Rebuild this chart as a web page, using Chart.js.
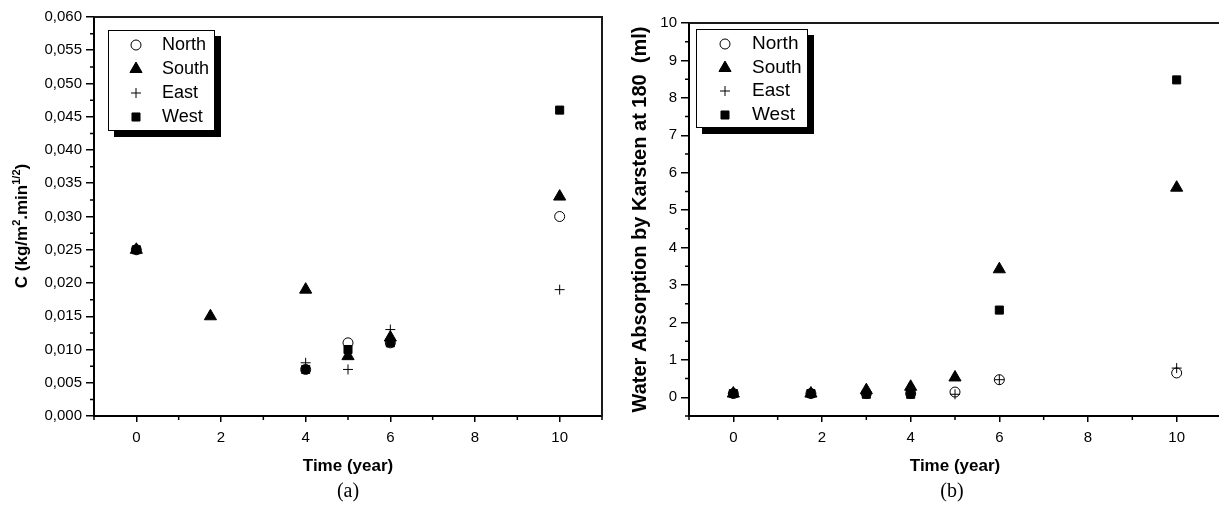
<!DOCTYPE html>
<html><head><meta charset="utf-8">
<script src="https://cdn.jsdelivr.net/npm/chart.js@4.4.1/dist/chart.umd.min.js"></script>
<style>
html,body{margin:0;padding:0;width:1219px;height:511px;overflow:hidden;background:#fff;font-family:"Liberation Sans",Arial,sans-serif;}
#wa{position:absolute;left:0;top:0;width:610px;height:511px;}
#wb{position:absolute;left:610px;top:0;width:620px;height:511px;}
.cap{position:absolute;font-family:"Liberation Serif","Times New Roman",serif;font-size:20px;color:#000;width:60px;text-align:center;line-height:24px;}
#ta{position:absolute;left:-78px;top:216px;width:200px;height:20px;line-height:20px;text-align:center;transform:rotate(-90deg);white-space:nowrap;font-weight:bold;font-size:17px;color:#000;}
#ta sup{font-size:11px;vertical-align:0;position:relative;top:-7px;}
</style></head>
<body>
<div id="wa"><canvas id="ca" width="610" height="511"></canvas></div>
<div id="wb"><canvas id="cb" width="620" height="511"></canvas></div>
<div id="ta">C (kg/m<sup>2</sup>.min<sup>1/2</sup>)</div>
<div class="cap" style="left:318px;top:478px;">(a)</div>
<div class="cap" style="left:922px;top:478px;">(b)</div>
<script>
const seriesNames = ['North', 'South', 'East', 'West'];

// ---- Chart (a): C (kg/m2.min^1/2) vs time ----
const aNorthX = [0, 4, 5, 6, 10];
const aNorthY = [0.025, 0.007, 0.011, 0.011, 0.030];
const aSouthX = [0, 1.75, 4, 5, 6, 10];
const aSouthY = [0.025, 0.015, 0.019, 0.009, 0.0118, 0.033];
const aEastX = [0, 4, 5, 6, 10];
const aEastY = [0.025, 0.008, 0.007, 0.013, 0.019];
const aWestX = [0, 4, 5, 6, 10];
const aWestY = [0.025, 0.007, 0.010, 0.011, 0.046];

// ---- Chart (b): Water absorption by Karsten vs time ----
const bNorthX = [0, 1.75, 3, 4, 5, 6, 10];
const bNorthY = [0.1, 0.1, 0.1, 0.1, 0.14, 0.47, 0.65];
const bSouthX = [0, 1.75, 3, 4, 5, 6, 10];
const bSouthY = [0.1, 0.1, 0.19, 0.28, 0.53, 3.42, 5.6];
const bEastX = [0, 1.75, 3, 4, 5, 6, 10];
const bEastY = [0.1, 0.1, 0.1, 0.1, 0.08, 0.47, 0.78];
const bWestX = [0, 1.75, 3, 4, 6, 10];
const bWestY = [0.1, 0.1, 0.08, 0.08, 2.33, 8.48];

// ---- ticks ----
const xMajorTicks = [0, 2, 4, 6, 8, 10];
const xMinorTicks = [-1, 1, 3, 5, 7, 9, 11];
const aYMajorTicks = [0, 0.005, 0.010, 0.015, 0.020, 0.025, 0.030, 0.035, 0.040, 0.045, 0.050, 0.055, 0.060];
const aYTickLabels = ['0,000', '0,005', '0,010', '0,015', '0,020', '0,025', '0,030', '0,035', '0,040', '0,045', '0,050', '0,055', '0,060'];
const aYMinorTicks = [0.0025, 0.0075, 0.0125, 0.0175, 0.0225, 0.0275, 0.0325, 0.0375, 0.0425, 0.0475, 0.0525, 0.0575];
const bYMajorTicks = [0, 1, 2, 3, 4, 5, 6, 7, 8, 9, 10];
const bYMinorTicks = [-0.5, 0.5, 1.5, 2.5, 3.5, 4.5, 5.5, 6.5, 7.5, 8.5, 9.5];

const markerStyles = {
  North: {pointStyle: 'circle', pointRadius: 5, backgroundColor: '#ffffff', borderColor: '#000', borderWidth: 1},
  South: {pointStyle: 'triangle', pointRadius: 7, backgroundColor: '#000', borderColor: '#000', borderWidth: 1},
  East: {pointStyle: 'cross', pointRadius: 5, backgroundColor: '#000', borderColor: '#000', borderWidth: 1},
  West: {pointStyle: 'rect', pointRadius: 5.7, backgroundColor: '#000', borderColor: '#000', borderWidth: 1}
};

function pts(xs, ys) { return xs.map((x, i) => ({x: x, y: ys[i]})); }

function makeDatasets(list) {
  return list.map((d, i) => {
    const s = markerStyles[d.name];
    return {
      label: d.name,
      data: pts(d.x, d.y),
      pointStyle: s.pointStyle,
      pointRadius: s.pointRadius,
      pointHoverRadius: s.pointRadius,
      backgroundColor: s.backgroundColor,
      borderColor: s.borderColor,
      borderWidth: s.borderWidth,
      pointBorderWidth: s.borderWidth,
      showLine: false,
      order: list.length - i
    };
  });
}

function drawMarker(ctx, style, x, y) {
  if (Chart.helpers && Chart.helpers.drawPoint) {
    ctx.save();
    ctx.fillStyle = style.backgroundColor;
    ctx.strokeStyle = style.borderColor;
    ctx.lineWidth = style.borderWidth;
    Chart.helpers.drawPoint(ctx, {pointStyle: style.pointStyle, radius: style.pointRadius, rotation: 0, borderWidth: style.borderWidth}, x, y);
    ctx.restore();
  }
}

function decorPlugin(cfg) {
  return {
    id: 'decor',
    afterDraw(chart) {
      const ctx = chart.ctx;
      const a = chart.chartArea;
      const xs = chart.scales.x, ys = chart.scales.y;
      ctx.save();
      // frame top/right
      ctx.strokeStyle = '#1a1a1a';
      ctx.lineWidth = 2;
      ctx.beginPath();
      ctx.moveTo(a.left, a.top); ctx.lineTo(a.right, a.top); ctx.lineTo(a.right, a.bottom);
      ctx.stroke();
      // minor ticks
      ctx.strokeStyle = '#000';
      ctx.lineWidth = 1.5;
      ctx.beginPath();
      cfg.xMinor.forEach(v => { const px = xs.getPixelForValue(v); ctx.moveTo(px, a.bottom); ctx.lineTo(px, a.bottom + 4); });
      cfg.yMinor.forEach(v => { const py = ys.getPixelForValue(v); ctx.moveTo(a.left, py); ctx.lineTo(a.left - 4, py); });
      ctx.stroke();
      // legend box
      const L = cfg.legend;
      const bx = a.left + L.dx, by = a.top + L.dy;
      ctx.fillStyle = '#000';
      ctx.fillRect(bx + L.shadow, by + L.shadow, L.w, L.h);
      ctx.fillStyle = '#fff';
      ctx.fillRect(bx, by, L.w, L.h);
      ctx.strokeStyle = '#000';
      ctx.lineWidth = 1;
      ctx.strokeRect(bx + 0.5, by + 0.5, L.w - 1, L.h - 1);
      ctx.font = L.fontSize + 'px "Liberation Sans", Arial, sans-serif';
      ctx.textBaseline = 'middle';
      ctx.textAlign = 'left';
      seriesNames.forEach((n, i) => {
        const ry = a.top + L.rows[i];
        drawMarker(ctx, markerStyles[n], a.left + L.symX, ry);
        ctx.fillStyle = '#000';
        ctx.fillText(n, a.left + L.textX, ry);
      });
      ctx.restore();
    }
  };
}

function makeChart(canvasId, datasets, o) {
  return new Chart(document.getElementById(canvasId), {
    type: 'scatter',
    data: {datasets: datasets},
    options: {
      responsive: false,
      animation: false,
      events: [],
      layout: {padding: o.padding},
      plugins: {legend: {display: false}, tooltip: {enabled: false}},
      scales: {
        x: {
          type: 'linear', min: -1, max: 11,
          afterBuildTicks: s => { s.ticks = xMajorTicks.map(v => ({value: v})); },
          afterFit: s => { s.height = o.xHeight; s.paddingLeft = 0; s.paddingRight = 0; },
          grid: {display: true, drawOnChartArea: false, drawTicks: true, tickLength: 6, color: '#000', lineWidth: 1.5},
          border: {display: true, color: '#000', width: 2},
          ticks: {color: '#000', font: {family: '"Liberation Sans", Arial, sans-serif', size: 15}, padding: 7, maxRotation: 0,
                  callback: v => String(v)},
          title: {display: true, text: 'Time (year)', color: '#000', padding: 0,
                  font: {family: '"Liberation Sans", Arial, sans-serif', size: 17, weight: 'bold'}}
        },
        y: {
          type: 'linear', min: o.yMin, max: o.yMax,
          afterBuildTicks: s => { s.ticks = o.yMajor.map(v => ({value: v})); },
          afterFit: s => { s.width = o.yWidth; s.paddingTop = 0; s.paddingBottom = 0; },
          grid: {display: true, drawOnChartArea: false, drawTicks: true, tickLength: 8, color: '#000', lineWidth: 1.5},
          border: {display: true, color: '#000', width: 2},
          ticks: {color: '#000', font: {family: '"Liberation Sans", Arial, sans-serif', size: 15}, padding: 4,
                  callback: o.yLabel},
          title: o.yTitle
        }
      }
    },
    plugins: [decorPlugin(o.decor)]
  });
}

makeChart('ca', makeDatasets([
  {name: 'North', x: aNorthX, y: aNorthY},
  {name: 'South', x: aSouthX, y: aSouthY},
  {name: 'East', x: aEastX, y: aEastY},
  {name: 'West', x: aWestX, y: aWestY}
]), {
  padding: {left: 0, top: 17, right: 8, bottom: 34},
  xHeight: 61, yWidth: 94, yMin: 0, yMax: 0.060,
  yMajor: aYMajorTicks,
  yLabel: (v) => { const i = aYMajorTicks.findIndex(t => Math.abs(t - v) < 1e-9); return i >= 0 ? aYTickLabels[i] : ''; },
  yTitle: {display: false},
  decor: {xMinor: xMinorTicks, yMinor: aYMinorTicks,
          legend: {dx: 14, dy: 13, w: 107, h: 101, shadow: 6, symX: 42, textX: 68, rows: [28, 52, 76, 100], fontSize: 18}}
});

makeChart('cb', makeDatasets([
  {name: 'North', x: bNorthX, y: bNorthY},
  {name: 'South', x: bSouthX, y: bSouthY},
  {name: 'East', x: bEastX, y: bEastY},
  {name: 'West', x: bWestX, y: bWestY}
]), {
  padding: {left: 0, top: 23, right: 9, bottom: 34},
  xHeight: 61, yWidth: 79, yMin: -0.5, yMax: 10,
  yMajor: bYMajorTicks,
  yLabel: (v) => String(v),
  yTitle: {display: true, text: 'Water Absorption by Karsten at 180  (ml)', color: '#000', padding: {top: 18, bottom: 0},
           font: {family: '"Liberation Sans", Arial, sans-serif', size: 20, weight: 'bold'}},
  decor: {xMinor: xMinorTicks, yMinor: bYMinorTicks,
          legend: {dx: 7, dy: 6, w: 112, h: 99, shadow: 6, symX: 36, textX: 63, rows: [21, 45, 68, 92], fontSize: 19}}
});
</script>
</body></html>
